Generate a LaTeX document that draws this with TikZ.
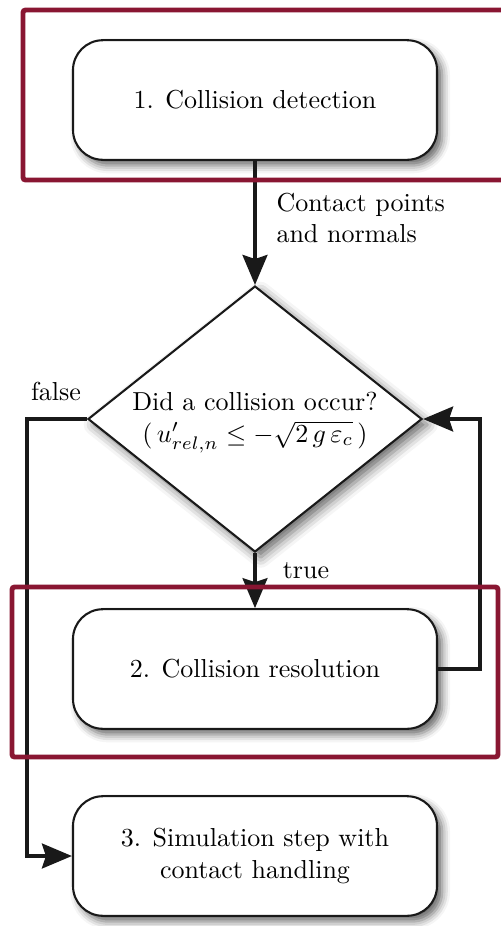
\documentclass[tikz,border=0pt]{standalone}
\usetikzlibrary{shapes.geometric,arrows.meta,shadows.blur}
\definecolor{frame}{RGB}{137,22,50}
\begin{document}
\begin{tikzpicture}[x=0.3846pt,y=-0.3846pt,
  box/.style={draw=black!90,line width=0.8pt,rounded corners=11.5pt,fill=white,
    minimum width=140pt,minimum height=46pt,align=center,
    blur shadow={shadow xshift=2pt,shadow yshift=-2.2pt,shadow blur radius=3pt,shadow opacity=60}},
  dia/.style={draw=black!90,line width=0.8pt,diamond,fill=white,inner sep=0pt,
    minimum width=128.5pt,minimum height=102.3pt,
    blur shadow={shadow xshift=2.2pt,shadow yshift=-2.2pt,shadow blur radius=4pt,shadow opacity=60}},
  arr/.style={line width=1.6pt,draw=black!90,-{Stealth[length=11.5pt,width=9.5pt,inset=1.5pt]}},
  redframe/.style={draw=frame,line width=1.9pt,rounded corners=1pt},
  lbl/.style={align=left,inner sep=0pt}]
\useasboundingbox (0,0) rectangle (501,926);
\node[box] (b1) at (255,100) {1. Collision detection};
\node[dia] (d) at (255,419) {};
\node[inner sep=0pt] (dt1) at (255,401) {Did a collision occur?};
\node[inner sep=0pt] (dt2) at (255,437) {$(\,u'_{rel,n}\leq-\sqrt{2\,g\,\varepsilon_c}\,)$};
\node[box] (b2) at (255,669) {2. Collision resolution};
\node[box] (b3) at (255,856) {3. Simulation step with\\contact handling};
\coordinate (fl) at (27,419);
\coordinate (lr) at (480,669);
\draw[arr] (b1.south) -- (d.north);
\draw[arr] (d.south) -- (b2.north);
\draw[arr] (d.west) -- (fl) |- (b3.west);
\draw[arr] (b2.east) -- (lr) |- (d.east);
\node[lbl,anchor=west] (cp) at (276,218) {Contact points\\and normals};
\node[lbl] (fa) at (56,391) {false};
\node[lbl] (tr) at (306,571) {true};
\draw[redframe] (23,10) rectangle (530,180);
\draw[redframe] (12,587) rectangle (498,757);
\end{tikzpicture}
\end{document}
